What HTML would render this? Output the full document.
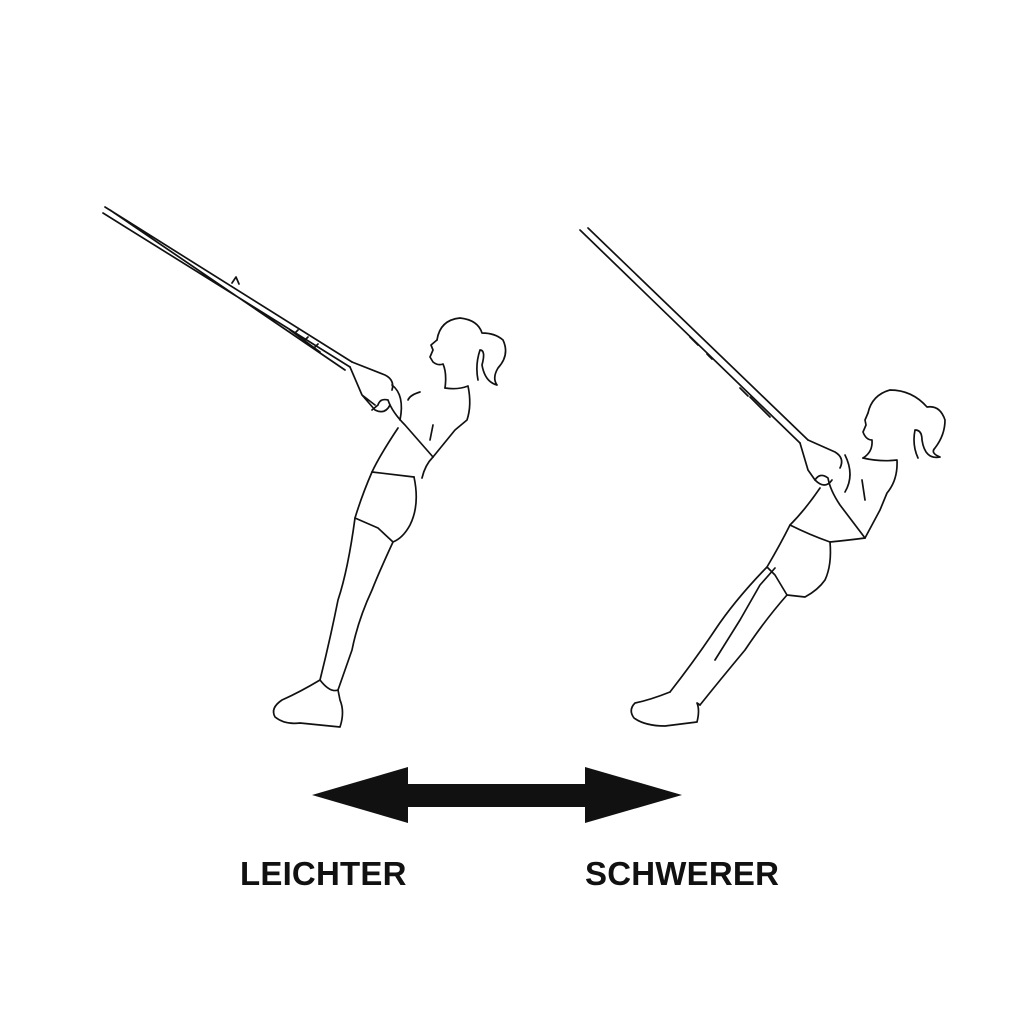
<!DOCTYPE html>
<html><head><style>
html,body{margin:0;padding:0;background:#fff;}
.w{position:relative;width:1024px;height:1024px;overflow:hidden;}
.t{position:absolute;font-family:"Liberation Sans",sans-serif;font-weight:bold;font-size:33px;color:#111;top:855px;letter-spacing:0.2px;}
</style></head><body><div class="w">
<svg width="1024" height="1024" viewBox="0 0 1024 1024" style="position:absolute;left:0;top:0" fill="none" stroke="#111" stroke-width="1.7" stroke-linejoin="round" stroke-linecap="round">
<path d="M105 207 L352 362 M103 213 L350 367 M110 210 L345 370"/>
<path d="M232 283 l4 -6 l3 7 M290 330 l30 22 M295 333 l3 -3 M305 340 l3 -3 M315 347 l3 -3"/>
<path d="M350 367 L362 395 L375 405 M352 362 L385 375 Q395 380 392 390 M362 395 L375 410 Q385 415 390 405"/>
<path d="M392 385 Q405 395 400 420"/>
<path d="M437 340 Q440 320 460 318 Q478 320 482 333 Q495 333 503 340 Q510 355 498 368 Q492 378 497 385 Q485 382 482 365 Q486 350 480 350 Q475 365 478 380"/>
<path d="M437 340 L431 345 L433 350 L430 357 L433 362 Q438 366 443 364 Q447 373 445 388"/>
<path d="M445 388 Q458 390 468 386 Q472 405 467 420 L455 430 L433 457"/>
<path d="M433 457 L405 425 Q392 412 388 400 Q380 398 378 405 L372 410"/>
<path d="M433 425 L430 440 M420 392 Q410 395 408 400"/>
<path d="M398 428 Q380 455 372 472 M433 457 Q425 465 422 478"/>
<path d="M372 472 L414 477"/>
<path d="M414 477 Q420 505 410 525 Q403 538 393 542 L378 528 L355 518 Q362 495 372 472"/>
<path d="M355 518 Q348 570 338 600 Q330 640 320 680"/>
<path d="M393 542 Q380 570 372 590 Q358 620 352 650 Q345 670 338 690"/>
<path d="M320 680 Q300 692 282 700 Q270 708 275 717 Q285 725 300 723 L340 727 Q345 712 340 700 L338 690 Q330 693 320 680"/>
<path d="M580 230 L800 443 M588 228 L808 440"/>
<path d="M690 337 l8 8 M707 354 l5 5 M740 388 l8 8 M750 397 l20 20"/>
<path d="M800 443 L808 470 L815 480 M808 440 L835 452 Q845 458 840 468 M815 480 Q825 490 832 480"/>
<path d="M845 455 Q855 475 845 492"/>
<path d="M868 413 Q872 395 890 390 Q912 390 927 407 Q940 405 945 420 Q945 435 935 448 Q930 453 940 457 Q925 460 922 440 Q922 430 915 430 Q912 445 918 458"/>
<path d="M868 413 L865 420 L866 425 L863 432 Q866 440 872 440 Q873 452 863 458"/>
<path d="M863 458 Q880 462 897 460 Q898 480 887 493 L880 510 L865 538"/>
<path d="M865 538 L840 505 Q830 490 828 478 Q820 472 815 480"/>
<path d="M820 488 Q805 510 790 525 M865 538 Q850 540 830 542 M862 480 L865 500"/>
<path d="M790 525 Q810 535 830 542 Q832 565 825 580 Q818 590 805 597 L787 595 L775 575 L767 567 Q780 545 790 525"/>
<path d="M767 567 Q735 600 715 630 Q695 660 670 692 M775 568 L760 585 L740 620 L715 660"/>
<path d="M787 595 Q765 620 745 650 Q720 680 700 705"/>
<path d="M670 692 Q650 700 635 703 Q628 710 634 718 Q645 726 665 726 L697 722 Q700 710 697 703 L700 705"/>
<path d="M312 795 L408 767 L408 784 L585 784 L585 767 L682 795 L585 823 L585 807 L408 807 L408 823 Z" fill="#111" stroke="none"/>
</svg>
<div class="t" style="left:240px">LEICHTER</div>
<div class="t" style="left:585px">SCHWERER</div>
</div></body></html>
